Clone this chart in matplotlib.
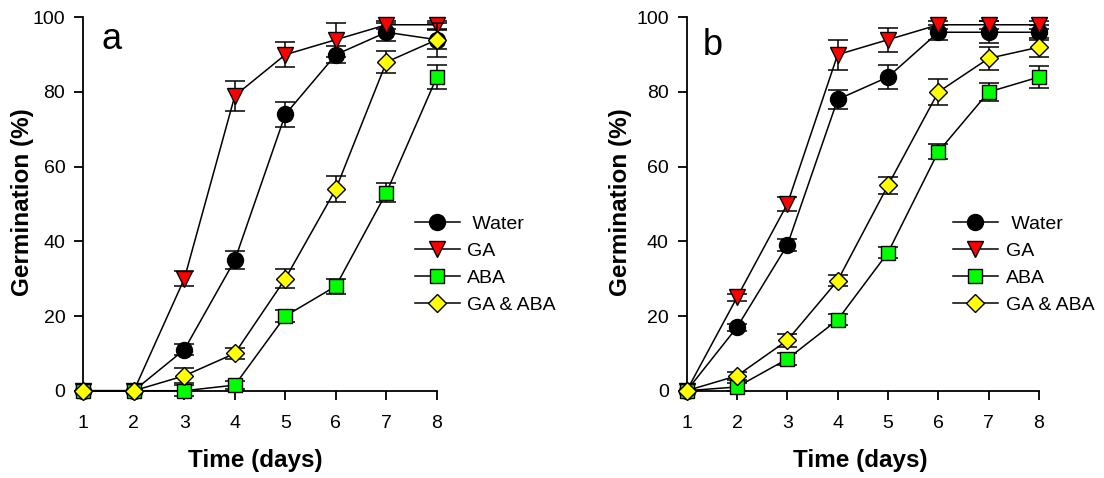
import numpy as np
import matplotlib
matplotlib.use("Agg")
import matplotlib.pyplot as plt

plt.rcParams["font.family"] = ["Liberation Sans", "DejaVu Sans"]

days = [1, 2, 3, 4, 5, 6, 7, 8]
series_names = [" Water", "GA", "ABA", "GA & ABA"]

# Panel a: germination (%) and standard errors
water_a = [0, 0, 11, 35, 74, 90, 96, 94]
water_a_err = [0, 0, 1.5, 2.5, 3.3, 2.3, 2.4, 2.5]
ga_a = [0, 0, 30, 79, 90, 94, 98, 98]
ga_a_err = [0, 0, 2, 4, 3.3, 4.5, 1, 1]
aba_a = [0, 0, 0, 1.5, 20, 28, 53, 84]
aba_a_err = [0, 0, 1.5, 1, 1.5, 2, 2.5, 3.2]
gaaba_a = [0, 0, 4, 10, 30, 54, 88, 94]
gaaba_a_err = [0, 0, 2, 1.5, 2.5, 3.5, 3, 4.5]

# Panel b: germination (%) and standard errors
water_b = [0, 17, 39, 78, 84, 96, 96, 96]
water_b_err = [0, 1, 1.5, 2.5, 3.3, 2, 3, 2]
ga_b = [0, 25, 50, 90, 94, 98, 98, 98]
ga_b_err = [0, 1, 2, 4, 3.2, 1, 1, 1]
aba_b = [0, 1, 8.5, 19, 37, 64, 80, 84]
aba_b_err = [0, 1, 1.5, 1.5, 1.5, 2, 2.5, 3]
gaaba_b = [0, 4, 13.5, 29.5, 55, 80, 89, 92]
gaaba_b_err = [0, 1, 1.8, 1.5, 2.3, 3.5, 3, 2.5]

styles = [
    dict(marker="o", markerfacecolor="black", markersize=11.5),
    dict(marker="v", markerfacecolor="#ff0000", markersize=11),
    dict(marker="s", markerfacecolor="#00ff00", markersize=9.8),
    dict(marker="D", markerfacecolor="#ffff00", markersize=9.2),
]

fig = plt.figure(figsize=(11.04, 4.78), dpi=100)
ax_a = fig.add_axes([0.0755, 0.1826, 0.3202, 0.7812])
ax_b = fig.add_axes([0.6220, 0.1826, 0.3191, 0.7812])


def draw_panel(ax, values, errors, letter, letter_xy, legend_anchor, xlabel_x, ylabel_x):
    x = np.array(days, dtype=float)
    for i, (vals, errs, style, name) in enumerate(zip(values, errors, styles, series_names)):
        v = np.array(vals, dtype=float)
        e = np.array(errs, dtype=float)
        z = 3 + i
        ax.plot(x, v, color="black", linewidth=1.1, markeredgecolor="black",
                markeredgewidth=1.0, label=name, zorder=z + 0.5, clip_on=False, **style)
        has_err = e > 0
        ax.errorbar(x[has_err], v[has_err], yerr=e[has_err], fmt="none", ecolor="black",
                    elinewidth=1.1, capsize=7, capthick=1.1, zorder=z, clip_on=False)

    ax.set_xlim(1, 8)
    ax.set_ylim(0, 100)
    ax.set_xticks(days)
    ax.set_yticks([0, 20, 40, 60, 80, 100])
    for side in ("top", "right"):
        ax.spines[side].set_visible(False)
    for side in ("left", "bottom"):
        ax.spines[side].set_linewidth(1.3)
    ax.tick_params(axis="both", direction="out", length=6.5, width=1.3, labelsize=14)
    ax.tick_params(axis="x", pad=11)
    ax.tick_params(axis="y", pad=6.5)

    ax.set_xlabel("Time (days)", fontsize=17.5, fontweight="bold")
    ax.xaxis.set_label_coords(xlabel_x, -0.1856)
    ax.xaxis.label.set_verticalalignment("center")
    ax.set_ylabel("Germination (%)", fontsize=17.5, fontweight="bold")
    ax.yaxis.set_label_coords(ylabel_x, 0.505)
    ax.yaxis.label.set_verticalalignment("center")

    ax.text(letter_xy[0], letter_xy[1], letter, transform=ax.transAxes,
            fontsize=26, ha="left", va="baseline")

    ax.legend(loc="upper left", bbox_to_anchor=legend_anchor, frameon=False,
              fontsize=14, handlelength=2.3, handletextpad=0.4,
              labelspacing=0.48, borderpad=0, borderaxespad=0)


draw_panel(ax_a,
           [water_a, ga_a, aba_a, gaaba_a],
           [water_a_err, ga_a_err, aba_a_err, gaaba_a_err],
           "a", (0.051, 0.915), (0.938, 0.469), 0.486, -0.171)
draw_panel(ax_b,
           [water_b, ga_b, aba_b, gaaba_b],
           [water_b_err, ga_b_err, aba_b_err, gaaba_b_err],
           "b", (0.045, 0.899), (0.756, 0.469), 0.494, -0.187)

fig.savefig("out.png", dpi=100)
